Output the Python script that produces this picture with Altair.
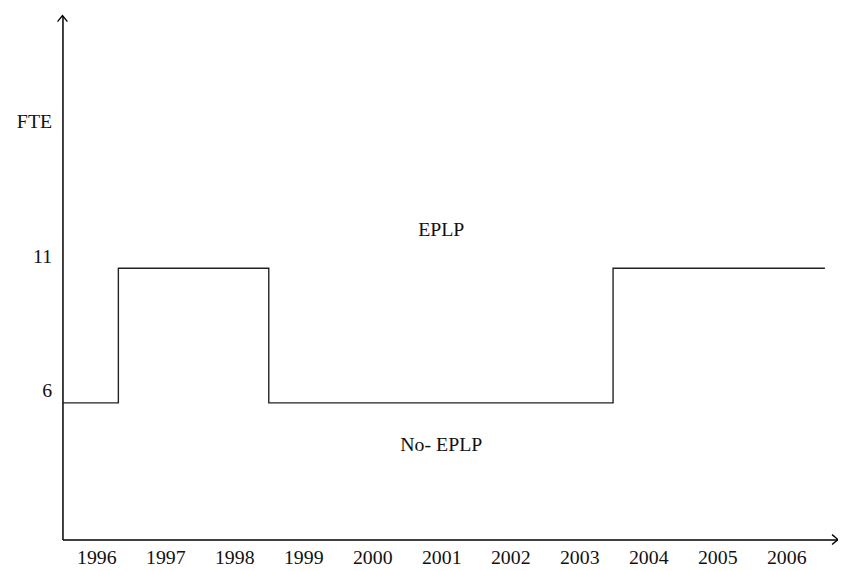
import altair as alt
import pandas as pd

# ---- data ----
step_years = [1995.51, 1996.32, 1998.5, 2003.49, 2006.56]
step_fte = [6, 11, 6, 11, 11]
tick_years = list(range(1996, 2007))
y_tick_values = [6, 11, 16]
y_tick_texts = ["6", "11", "FTE"]
region_names = ["EPLP", "No- EPLP"]
region_years = [2001.0, 2001.0]
region_fte = [12.43, 4.42]

X_DOMAIN = [1995.51, 2006.75]
Y_DOMAIN = [0.926, 20.375]
FONT = "Liberation Serif"

xscale = alt.Scale(domain=X_DOMAIN, nice=False, zero=False)
yscale = alt.Scale(domain=Y_DOMAIN, nice=False, zero=False)

label_expr = " : ".join(
    f"datum.value == {v} ? '{t}'" for v, t in zip(y_tick_values, y_tick_texts)
) + " : datum.label"

x_axis = alt.Axis(
    values=tick_years, format="d", title=None, ticks=False, tickSize=0,
    grid=False, labelPadding=18, labelBaseline="middle", labelFont=FONT,
    labelFontSize=20, labelColor="#111", labelOverlap=False, labelFlush=False,
    domainColor="#000", domainWidth=1.5,
)
y_axis = alt.Axis(
    values=y_tick_values, labelExpr=label_expr, title=None, ticks=False,
    tickSize=0, grid=False, labelPadding=11, labelOffset=-12, labelFont=FONT,
    labelFontSize=20, labelColor="#111", labelOverlap=False, labelFlush=False,
    domainColor="#000", domainWidth=1.5,
)

step_df = pd.DataFrame({"year": step_years, "fte": step_fte})
line = alt.Chart(step_df).mark_line(
    interpolate="step-after", color="#222", strokeWidth=1.4
).encode(
    x=alt.X("year:Q", scale=xscale, axis=x_axis),
    y=alt.Y("fte:Q", scale=yscale, axis=y_axis),
)

region_df = pd.DataFrame({"name": region_names, "year": region_years, "fte": region_fte})
regions = alt.Chart(region_df).mark_text(
    font=FONT, fontSize=20, color="#111", align="center", baseline="middle"
).encode(
    x=alt.X("year:Q", scale=xscale),
    y=alt.Y("fte:Q", scale=yscale),
    text="name:N",
)

arrow_df = pd.DataFrame({
    "year": [X_DOMAIN[0], X_DOMAIN[1]],
    "fte": [Y_DOMAIN[1], Y_DOMAIN[0]],
    "shape": ["M -1 1.2 L 0 0 L 1 1.2", "M -1.2 -1 L 0 0 L -1.2 1"],
})
arrows = alt.Chart(arrow_df).mark_point(
    filled=False, color="#000", strokeWidth=1.4, size=100, opacity=1
).encode(
    x=alt.X("year:Q", scale=xscale),
    y=alt.Y("fte:Q", scale=yscale),
    shape=alt.Shape("shape:N", scale=None),
)

chart = alt.layer(line, regions, arrows).properties(
    width=783, height=529,
    autosize=alt.AutoSizeParams(type="none"),
    padding={"left": 55, "top": 5, "right": 0, "bottom": 28},
    background="white",
).configure_view(stroke=None)

chart.save("out.html", embed_options={"renderer": "svg", "actions": False})
